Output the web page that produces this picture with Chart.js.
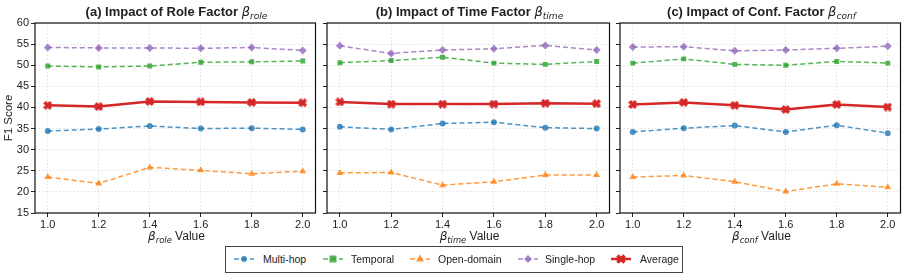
<!DOCTYPE html>
<html>
<head>
<meta charset="utf-8">
<script src="https://cdn.jsdelivr.net/npm/chart.js@4.4.1/dist/chart.umd.min.js"></script>
<style>
  body { margin: 0; background: #fff; width: 910px; height: 279px; position: relative; overflow: hidden;
         font-family: "Liberation Sans", Arial, sans-serif; color: #222; }
  canvas { position: absolute; top: 0; }
  .title { position: absolute; top: 4px; text-align: center; font-weight: bold; font-size: 13px; white-space: nowrap; }
  .xlab { position: absolute; top: 229px; text-align: center; font-size: 12px; white-space: nowrap; }
  .m { font-family: "DejaVu Sans", sans-serif; font-style: italic; font-weight: normal; }
  .m sub { font-size: 70%; vertical-align: -0.3em; line-height: 0; }
  #legend { position: absolute; left: 225px; top: 246px; width: 456px; height: 25px; border: 1px solid #444;
            background: #fff; font-size: 10.5px; }
  .item { position: absolute; top: 0; height: 25px; line-height: 25px; }
  .item svg { position: absolute; top: 6px; left: 0; }
  .item span { position: absolute; white-space: nowrap; }
</style>
</head>
<body>
<canvas id="chartA" width="320" height="232" style="left:0px"></canvas>
<canvas id="chartB" width="304" height="232" style="left:310px"></canvas>
<canvas id="chartC" width="302" height="232" style="left:603px"></canvas>

<div class="title" style="left:35px;width:283px">(a) Impact of Role Factor <span class="m">β<sub>role</sub></span></div>
<div class="title" style="left:327px;width:285px">(b) Impact of Time Factor <span class="m">β<sub>time</sub></span></div>
<div class="title" style="left:620px;width:283px">(c) Impact of Conf. Factor <span class="m">β<sub>conf</sub></span></div>

<div class="xlab" style="left:35px;width:283px"><span class="m">β<sub>role</sub></span> Value</div>
<div class="xlab" style="left:327px;width:285px"><span class="m">β<sub>time</sub></span> Value</div>
<div class="xlab" style="left:620px;width:283px"><span class="m">β<sub>conf</sub></span> Value</div>

<div id="legend"></div>

<script>
// x values and ticks
const betas = [1.0, 1.2, 1.4, 1.6, 1.8, 2.0];
const yTicks = [15, 20, 25, 30, 35, 40, 45, 50, 55, 60];
const seriesNames = ['Multi-hop', 'Temporal', 'Open-domain', 'Single-hop', 'Average'];

// (a) role factor
const roleMulti    = [34.4, 34.9, 35.6, 35.0, 35.1, 34.8];
const roleTemporal = [49.8, 49.6, 49.8, 50.7, 50.8, 51.0];
const roleOpen     = [23.5, 22.0, 25.8, 25.1, 24.3, 24.9];
const roleSingle   = [54.2, 54.1, 54.1, 54.0, 54.2, 53.5];
const roleAvg      = [40.5, 40.2, 41.4, 41.3, 41.2, 41.1];

// (b) time factor
const timeMulti    = [35.4, 34.8, 36.2, 36.5, 35.2, 35.0];
const timeTemporal = [50.6, 51.1, 51.9, 50.5, 50.2, 50.9];
const timeOpen     = [24.5, 24.6, 21.6, 22.4, 24.0, 24.0];
const timeSingle   = [54.6, 52.8, 53.6, 53.9, 54.7, 53.6];
const timeAvg      = [41.3, 40.8, 40.8, 40.8, 41.0, 40.9];

// (c) confidence factor
const confMulti    = [34.2, 35.1, 35.7, 34.2, 35.8, 33.9];
const confTemporal = [50.5, 51.5, 50.2, 50.0, 50.9, 50.5];
const confOpen     = [23.5, 23.9, 22.4, 20.1, 21.9, 21.1];
const confSingle   = [54.3, 54.4, 53.4, 53.6, 54.0, 54.5];
const confAvg      = [40.7, 41.2, 40.5, 39.5, 40.7, 40.1];

const colors = ['rgba(31,119,180,0.8)', 'rgba(44,160,44,0.8)', 'rgba(255,127,14,0.8)', 'rgba(148,103,189,0.8)', '#d62728'];

// filled X marker for the average line
function makeX(size, color) {
  const c = document.createElement('canvas');
  c.width = size; c.height = size;
  const g = c.getContext('2d');
  const s = size, t = size * 0.2;
  g.fillStyle = color;
  g.translate(s / 2, s / 2);
  for (const a of [Math.PI / 4, -Math.PI / 4]) {
    g.save();
    g.rotate(a);
    g.fillRect(-s / 2, -t, s, 2 * t);
    g.restore();
  }
  return c;
}
const xMarker = makeX(9, '#d62728');

const styles = [
  { point: 'circle', r: 3 },
  { point: 'rect', r: 3.5 },
  { point: 'triangle', r: 4 },
  { point: 'rectRot', r: 4 },
  { point: xMarker, r: 4.5 }
];

function datasets(lists) {
  return lists.map((vals, i) => ({
    label: seriesNames[i],
    data: betas.map((b, j) => ({ x: b, y: vals[j] })),
    borderColor: colors[i],
    backgroundColor: colors[i],
    borderWidth: i === 4 ? 2.5 : 1.5,
    borderDash: i === 4 ? [] : [5, 3],
    pointStyle: styles[i].point,
    pointRadius: styles[i].r,
    pointBorderWidth: 0,
    order: i === 4 ? 0 : 1
  }));
}

const frame = {
  id: 'frame',
  afterDraw(chart) {
    const { ctx, chartArea: a } = chart;
    ctx.save();
    ctx.strokeStyle = '#111';
    ctx.lineWidth = 1.2;
    ctx.strokeRect(a.left, a.top, a.right - a.left, a.bottom - a.top);
    ctx.restore();
  }
};

const tickFont = { family: '"Liberation Sans", Arial, sans-serif', size: 11 };

function makeChart(id, lists, yWidth, showY) {
  return new Chart(document.getElementById(id), {
    type: 'line',
    data: { datasets: datasets(lists) },
    options: {
      responsive: false,
      animation: false,
      devicePixelRatio: 1,
      layout: { padding: { top: 23, right: 2, left: 0, bottom: 0 } },
      plugins: { legend: { display: false }, tooltip: { enabled: false } },
      scales: {
        x: {
          type: 'linear', min: 0.95, max: 2.05,
          afterBuildTicks: s => { s.ticks = betas.map(v => ({ value: v })); },
          afterFit: s => { s.height = 19; },
          ticks: { color: '#222', font: tickFont, padding: 1, maxRotation: 0,
                   callback: v => v.toFixed(1) },
          grid: { color: 'rgba(0,0,0,0.11)', tickColor: '#222', tickLength: 4, tickBorderDash: [] },
          border: { display: false, dash: [1.5, 2] }
        },
        y: {
          min: 15, max: 60,
          afterBuildTicks: s => { s.ticks = yTicks.map(v => ({ value: v })); },
          afterFit: s => { s.width = yWidth; },
          ticks: { color: '#222', font: tickFont, padding: 2,
                   callback: v => showY ? String(v) : '' },
          grid: { color: 'rgba(0,0,0,0.11)', tickColor: '#222', tickLength: 4, tickBorderDash: [] },
          border: { display: false, dash: [1.5, 2] },
          title: { display: showY, text: 'F1 Score', color: '#222', font: { family: tickFont.family, size: 11.5 },
                   padding: { top: 2, bottom: 2 } }
        }
      }
    },
    plugins: [frame]
  });
}

makeChart('chartA', [roleMulti, roleTemporal, roleOpen, roleSingle, roleAvg], 35, true);
makeChart('chartB', [timeMulti, timeTemporal, timeOpen, timeSingle, timeAvg], 17, false);
makeChart('chartC', [confMulti, confTemporal, confOpen, confSingle, confAvg], 17, false);

// legend
const legendX = [8, 97, 184, 292, 385];
const textX = [37, 125, 212, 319, 414];
const markerSvg = [
  c => `<circle cx="10" cy="6" r="3" fill="${c}"/>`,
  c => `<rect x="6.5" y="2.5" width="7" height="7" fill="${c}"/>`,
  c => `<polygon points="10,1.5 14,8.5 6,8.5" fill="${c}"/>`,
  c => `<polygon points="10,2 14,6 10,10 6,6" fill="${c}"/>`,
  c => `<g fill="${c}"><rect x="5" y="4.2" width="10" height="3.6" transform="rotate(45 10 6)"/><rect x="5" y="4.2" width="10" height="3.6" transform="rotate(-45 10 6)"/></g>`
];
const legend = document.getElementById('legend');
seriesNames.forEach((name, i) => {
  const d = document.createElement('div');
  d.className = 'item';
  d.style.left = legendX[i] + 'px';
  const dash = i === 4 ? '' : 'stroke-dasharray="5 3"';
  const w = i === 4 ? 2.5 : 1.5;
  d.innerHTML = `<svg width="22" height="12"><line x1="0" y1="6" x2="20" y2="6" stroke="${colors[i]}" stroke-width="${w}" ${dash}/>${markerSvg[i](colors[i])}</svg>` +
    `<span style="left:${textX[i] - legendX[i]}px">${name}</span>`;
  legend.appendChild(d);
});
</script>
</body>
</html>
